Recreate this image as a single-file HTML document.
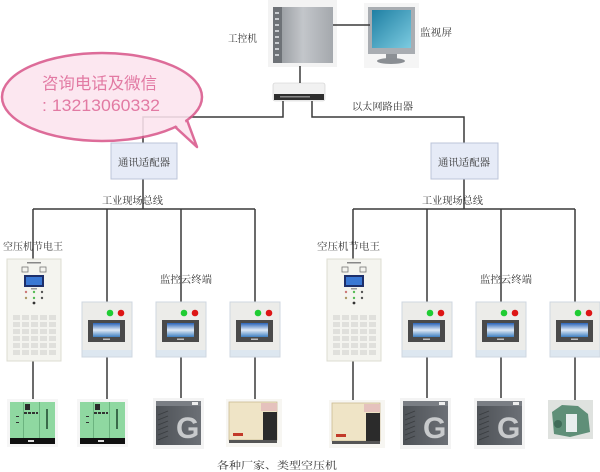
<!DOCTYPE html>
<html><head><meta charset="utf-8">
<style>
html,body{margin:0;padding:0;background:#fff;}
svg{display:block;}
.t{font-family:"Liberation Serif","Noto Serif CJK SC",serif;font-size:10px;fill:#333;}
.ln{stroke:#3a3a3a;stroke-width:1.5;fill:none;}
</style></head>
<body>
<svg width="600" height="472" viewBox="0 0 600 472" xmlns="http://www.w3.org/2000/svg">
<defs>
<linearGradient id="scr" x1="0" y1="0" x2="1" y2="1">
<stop offset="0" stop-color="#1f7fa3"/><stop offset="1" stop-color="#7ccbe0"/></linearGradient>
<linearGradient id="pc" x1="0" y1="0" x2="1" y2="0">
<stop offset="0" stop-color="#8d9196"/><stop offset="0.5" stop-color="#c3c6ca"/><stop offset="1" stop-color="#a4a8ad"/></linearGradient>
<linearGradient id="tsc" x1="0" y1="0" x2="0" y2="1">
<stop offset="0" stop-color="#2a64b8"/><stop offset="0.5" stop-color="#dfeaf6"/><stop offset="1" stop-color="#3f7fc0"/></linearGradient>
<linearGradient id="gg" x1="0" y1="0" x2="1" y2="0">
<stop offset="0" stop-color="#4e5257"/><stop offset="1" stop-color="#6c7076"/></linearGradient>
<g id="term">
<rect x="0" y="0" width="50" height="55" fill="#ecece9" stroke="#cfd7e0" stroke-width="1"/>
<rect x="0.5" y="48" width="49" height="6.5" fill="#dde7f0"/>
<circle cx="28" cy="11" r="3.3" fill="#1fcc33"/>
<circle cx="39" cy="11" r="3.3" fill="#dd1515"/>
<rect x="6" y="18" width="37" height="22" fill="#4a4a4a"/>
<rect x="11" y="21" width="27" height="14" fill="url(#tsc)"/>
<rect x="21" y="36.5" width="7" height="1.5" fill="#bbb"/>
</g>
<g id="cab">
<rect x="0" y="0" width="54" height="102" fill="#f4f4ef" stroke="#dcdcd2" stroke-width="1"/>
<rect x="20" y="3" width="14" height="1.5" fill="#888"/>
<rect x="15" y="8" width="6" height="5" fill="none" stroke="#777" stroke-width="0.8"/>
<rect x="33" y="8" width="6" height="5" fill="none" stroke="#777" stroke-width="0.8"/>
<rect x="17" y="16" width="20" height="12" fill="#1d2f6a"/>
<rect x="19" y="18" width="16" height="8" fill="#3a78d4"/>
<rect x="24" y="29" width="6" height="1.5" fill="#999"/>
<circle cx="19" cy="33" r="1.2" fill="#c77"/><circle cx="27" cy="33" r="1.2" fill="#5b5"/><circle cx="35" cy="33" r="1.2" fill="#555"/>
<circle cx="19" cy="39" r="1.2" fill="#a96"/><circle cx="27" cy="39" r="1.2" fill="#5b5"/><circle cx="35" cy="39" r="1.2" fill="#555"/>
<circle cx="27" cy="44" r="1.4" fill="#333"/>
<g fill="#e0e0dc">
<rect x="6" y="56" width="7" height="5"/><rect x="15" y="56" width="7" height="5"/><rect x="24" y="56" width="7" height="5"/><rect x="33" y="56" width="7" height="5"/><rect x="42" y="56" width="7" height="5"/>
<rect x="6" y="63" width="7" height="5"/><rect x="15" y="63" width="7" height="5"/><rect x="24" y="63" width="7" height="5"/><rect x="33" y="63" width="7" height="5"/><rect x="42" y="63" width="7" height="5"/>
<rect x="6" y="70" width="7" height="5"/><rect x="15" y="70" width="7" height="5"/><rect x="24" y="70" width="7" height="5"/><rect x="33" y="70" width="7" height="5"/><rect x="42" y="70" width="7" height="5"/>
<rect x="6" y="77" width="7" height="5"/><rect x="15" y="77" width="7" height="5"/><rect x="24" y="77" width="7" height="5"/><rect x="33" y="77" width="7" height="5"/><rect x="42" y="77" width="7" height="5"/>
<rect x="6" y="84" width="7" height="5"/><rect x="15" y="84" width="7" height="5"/><rect x="24" y="84" width="7" height="5"/><rect x="33" y="84" width="7" height="5"/><rect x="42" y="84" width="7" height="5"/>
<rect x="6" y="91" width="7" height="5"/><rect x="15" y="91" width="7" height="5"/><rect x="24" y="91" width="7" height="5"/><rect x="33" y="91" width="7" height="5"/><rect x="42" y="91" width="7" height="5"/>
</g>
</g>
<g id="green">
<rect x="-3" y="-3" width="51" height="48" fill="#f6f6f6"/>
<rect x="0" y="0" width="45" height="42" fill="#8fd8a1"/>
<rect x="13" y="0" width="1" height="36" fill="#6bb37f"/>
<rect x="29" y="0" width="1" height="36" fill="#6bb37f"/>
<rect x="15" y="2" width="5" height="6" fill="#2a2a2a"/>
<rect x="14" y="10" width="3" height="2" fill="#333"/><rect x="18" y="10" width="3" height="2" fill="#333"/><rect x="22" y="10" width="3" height="2" fill="#333"/><rect x="26" y="10" width="2" height="2" fill="#333"/>
<rect x="6" y="14" width="3" height="1" fill="#333"/><rect x="6" y="20" width="3" height="1" fill="#333"/>
<rect x="36" y="7" width="2" height="20" fill="#3a6a4a"/>
<rect x="0" y="36" width="45" height="6" fill="#111"/>
<rect x="18" y="38" width="6" height="2" fill="#ddd"/>
</g>
<g id="atlas">
<rect x="-3" y="-3" width="51" height="51" fill="#f3f3f3"/>
<rect x="0" y="0" width="45" height="44" fill="url(#gg)"/>
<rect x="0" y="0" width="45" height="5" fill="#7a7e84"/>
<rect x="36" y="1" width="6" height="3" fill="#eee"/>
<g stroke="#3a3d41" stroke-width="0.8">
<line x1="2" y1="14" x2="12" y2="10"/><line x1="2" y1="19" x2="12" y2="15"/><line x1="2" y1="24" x2="12" y2="20"/><line x1="2" y1="29" x2="12" y2="25"/><line x1="2" y1="34" x2="12" y2="30"/><line x1="2" y1="39" x2="12" y2="35"/>
</g>
<text x="20" y="37" font-family="Liberation Sans,sans-serif" font-weight="bold" font-size="30" fill="#c8cacc">G</text>
</g>
<g id="beige">
<rect x="-3" y="-3" width="56" height="48" fill="#f7f6f2"/>
<rect x="0" y="0" width="48" height="38" fill="#efe4c6" stroke="#cbbb92" stroke-width="0.8"/>
<rect x="32" y="1" width="16" height="8" fill="#e5c2bd"/>
<rect x="34" y="10" width="14" height="28" fill="#2b2b2b"/>
<rect x="4" y="31" width="10" height="3" fill="#c23a2a"/>
<rect x="0" y="38" width="48" height="3" fill="#555"/>
</g>
</defs>

<!-- top devices -->
<rect x="268" y="0" width="69" height="67" fill="#f3f3f3"/>
<rect x="273" y="7" width="60" height="56" fill="url(#pc)"/>
<rect x="273" y="7" width="9" height="56" fill="#6e7277"/>
<g fill="#c9ccd0"><rect x="275" y="12" width="4" height="2"/><rect x="275" y="18" width="4" height="2"/><rect x="275" y="24" width="4" height="2"/><rect x="275" y="30" width="4" height="2"/><rect x="275" y="36" width="4" height="2"/><rect x="275" y="42" width="4" height="2"/><rect x="275" y="48" width="4" height="2"/><rect x="275" y="54" width="4" height="2"/></g>

<rect x="364" y="3" width="55" height="65" fill="#f5f5f5"/>
<rect x="368" y="7" width="47" height="47" fill="#a9adb2"/>
<rect x="372" y="10" width="39" height="38" fill="url(#scr)"/>
<rect x="386" y="54" width="11" height="5" fill="#8c9095"/>
<ellipse cx="391" cy="61" rx="14" ry="3" fill="#8a8e93"/>

<rect x="273" y="83" width="52" height="18" rx="2" fill="#f1f1f1" stroke="#ccc" stroke-width="0.6"/>
<rect x="274" y="94" width="50" height="6" fill="#2e2e2e"/>
<rect x="280" y="96" width="30" height="1.5" fill="#888"/>

<!-- connectors -->
<path class="ln" d="M333 25H370"/>
<path class="ln" d="M300 66V83"/>
<path class="ln" d="M283 101V117H143V143"/>
<path class="ln" d="M312 101V117H464V143"/>
<path class="ln" d="M143 179V209"/>
<path class="ln" d="M464 179V209"/>
<path class="ln" d="M33 209H255"/>
<path class="ln" d="M353 209H575"/>
<path class="ln" d="M33 209V259M33 361V402"/>
<path class="ln" d="M107 209V302M107 357V402"/>
<path class="ln" d="M181 209V302M181 357V400"/>
<path class="ln" d="M255 209V302M255 357V402"/>
<path class="ln" d="M353 209V259M353 361V403"/>
<path class="ln" d="M427 209V302M427 357V403"/>
<path class="ln" d="M501 209V302M501 357V403"/>
<path class="ln" d="M575 209V302M575 357V400"/>

<!-- adapters -->
<rect x="111" y="143" width="66" height="36" fill="#e6ebf7" stroke="#bcc4da" stroke-width="1"/>
<rect x="431" y="143" width="67" height="36" fill="#e6ebf7" stroke="#bcc4da" stroke-width="1"/>

<!-- cabinets, terminals -->
<use href="#cab" x="7" y="259"/>
<use href="#cab" x="327" y="259"/>
<use href="#term" x="82" y="302"/>
<use href="#term" x="156" y="302"/>
<use href="#term" x="230" y="302"/>
<use href="#term" x="402" y="302"/>
<use href="#term" x="476" y="302"/>
<use href="#term" x="550" y="302"/>

<!-- compressors -->
<use href="#green" x="10" y="402"/>
<use href="#green" x="80" y="402"/>
<use href="#atlas" x="156" y="401"/>
<use href="#beige" x="229" y="402"/>
<use href="#beige" x="332" y="403"/>
<use href="#atlas" x="403" y="401"/>
<use href="#atlas" x="477" y="401"/>
<rect x="548" y="400" width="45" height="39" fill="#dfe2df"/>
<path d="M552 412 L562 405 L578 406 L588 414 L590 432 L570 437 L554 434 Z" fill="#5f8f78"/>
<rect x="566" y="414" width="11" height="18" fill="#e8eeee"/>
<circle cx="558" cy="424" r="4" fill="#3f6b58"/>

<!-- speech bubble -->
<g opacity="0.88">
<path d="M172 124 L197 147 L184 112 Z" fill="#fce4ee" stroke="#d9588c" stroke-width="2.5" stroke-linejoin="round"/>
<ellipse cx="102" cy="97" rx="100" ry="44" fill="#fce4ee" stroke="#d9588c" stroke-width="2.5"/>
<path d="M170 120 L190 138 L182 110 Z" fill="#fce4ee"/>
</g>
<text x="42" y="89" textLength="115" lengthAdjust="spacingAndGlyphs" font-family="Liberation Sans,'Noto Sans CJK SC',sans-serif" font-size="16.5" fill="#e27aa3">咨询电话及微信</text>
<text x="42" y="111" textLength="118" lengthAdjust="spacingAndGlyphs" font-family="Liberation Sans,'Noto Sans CJK SC',sans-serif" font-size="17" fill="#e27aa3">: 13213060332</text>

<!-- labels -->
<text class="t" x="228" y="42" textLength="29" lengthAdjust="spacingAndGlyphs">工控机</text>
<text class="t" x="420" y="36" textLength="32" lengthAdjust="spacingAndGlyphs">监视屏</text>
<text class="t" x="352" y="110" textLength="61" lengthAdjust="spacingAndGlyphs">以太网路由器</text>
<text class="t" x="118" y="166" textLength="52" lengthAdjust="spacingAndGlyphs">通讯适配器</text>
<text class="t" x="438" y="166" textLength="52" lengthAdjust="spacingAndGlyphs">通讯适配器</text>
<text class="t" x="102" y="204" textLength="61" lengthAdjust="spacingAndGlyphs">工业现场总线</text>
<text class="t" x="422" y="204" textLength="61" lengthAdjust="spacingAndGlyphs">工业现场总线</text>
<text class="t" x="3" y="250" textLength="60" lengthAdjust="spacingAndGlyphs">空压机节电王</text>
<text class="t" x="317" y="250" textLength="63" lengthAdjust="spacingAndGlyphs">空压机节电王</text>
<text class="t" x="160" y="283" textLength="52" lengthAdjust="spacingAndGlyphs">监控云终端</text>
<text class="t" x="480" y="283" textLength="52" lengthAdjust="spacingAndGlyphs">监控云终端</text>
<text class="t" x="217" y="469" font-size="12" textLength="120" lengthAdjust="spacingAndGlyphs">各种厂家、类型空压机</text>
</svg>
</body></html>
